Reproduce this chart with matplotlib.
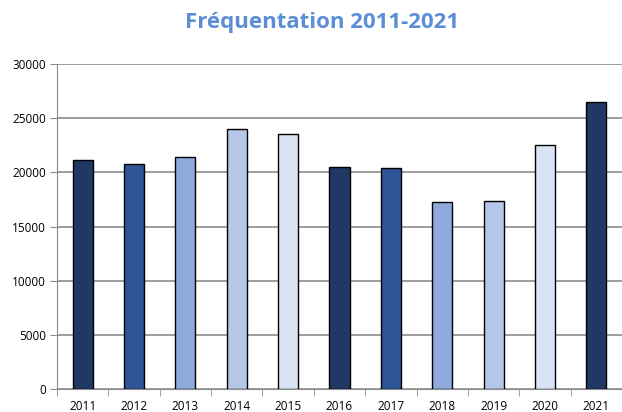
import numpy as np
import matplotlib.pyplot as plt

years = ['2011', '2012', '2013', '2014', '2015', '2016', '2017', '2018', '2019', '2020', '2021']
visits = [21150, 20800, 21450, 24000, 23580, 20500, 20380, 17250, 17330, 22560, 26460]
palette = ['#1F3864', '#2F5597', '#8FAADC', '#B4C7E7', '#DAE3F3']

plt.rcParams['font.family'] = ['Open Sans', 'DejaVu Sans']

fig = plt.figure(figsize=(6.22, 4.12), dpi=100)
ax = fig.add_axes([57/622, 23/412, 565/622, 325/412])

x = np.arange(len(years))
colors = [palette[i % len(palette)] for i in range(len(years))]
ax.bar(x, visits, width=0.39, color=colors, edgecolor='black', linewidth=1, zorder=3)

ax.set_xlim(-0.5, len(years) - 0.5)
ax.set_ylim(0, 30000)
ax.set_yticks(np.arange(0, 30001, 5000))
ax.yaxis.grid(True, color='#8c8c8c', linewidth=1.2, zorder=0)

ax.set_xticks(x)
ax.set_xticklabels(years, fontsize=8.5)
ax.set_xticks(np.arange(-0.5, len(years), 1), minor=True)
ax.tick_params(axis='x', which='major', length=0, pad=8)
ax.tick_params(axis='x', which='minor', length=5, color='#8c8c8c')
ax.tick_params(axis='y', length=5, color='#8c8c8c', labelsize=8.5, pad=3)

for s in ['top', 'right']:
    ax.spines[s].set_visible(False)
ax.spines['left'].set_color('#8c8c8c')
ax.spines['bottom'].set_color('#8c8c8c')

fig.text(0.517, 0.945, 'Fréquentation 2011-2021', ha='center', va='center',
         fontsize=16, fontweight='bold', color='#5B8ED6')

plt.savefig('out.png', dpi=100)
